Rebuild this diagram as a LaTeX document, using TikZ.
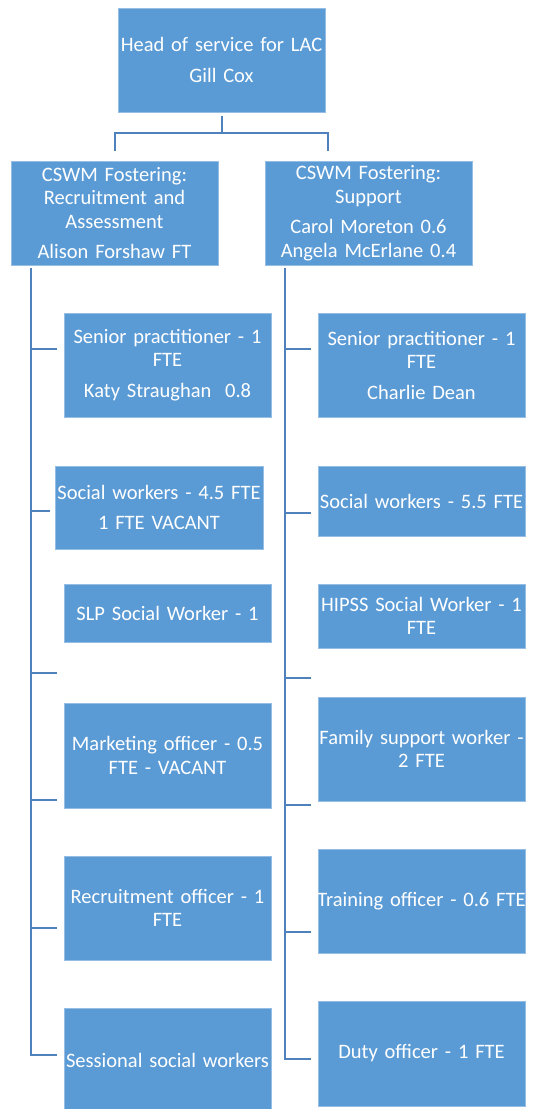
\documentclass[tikz,border=0pt]{standalone}
\usepackage{fontspec}
\setmainfont{Carlito}
\usetikzlibrary{calc}
\definecolor{boxblue}{RGB}{91,155,213}
\definecolor{linkblue}{RGB}{79,129,189}
\definecolor{edgeblue}{RGB}{150,190,228}

\begin{document}
\begin{tikzpicture}[x=1pt, y=-1pt,
		staffbox/.style={fill=boxblue, draw=edgeblue, line width=0.6pt, text=white, inner sep=0pt, align=center, text width=#1, font=\fontsize{20.5}{23.5}\selectfont},
		staffbox/.default=207pt,
		orgline/.style={draw=linkblue, line width=2pt}]
			%%%%% START %%%%%
			
			\useasboundingbox (0, 0) rectangle (534, 1109);
			
			\node[staffbox, minimum height=104pt] (head) at (221.5, 60) {Head of service for LAC\\[7pt]Gill Cox};
			
			\node[staffbox, minimum height=104pt] (csL) at (114.5, 213) {CSWM Fostering:\\Recruitment and\\Assessment\\[7pt]Alison Forshaw FT};
			\node[staffbox, minimum height=104pt] (csR) at (368.5, 213) {CSWM Fostering:\\Support\\[7pt]Carol Moreton 0.6\\Angela McErlane 0.4};
			
			\coordinate (busL) at (115, 133);
			\coordinate (busR) at (328, 133);
			\draw[orgline] ([yshift=-4pt]head.south) -- (head.south |- busL) -| ([yshift=10pt]csL.north -| busL);
			\draw[orgline] (head.south |- busR) -| ([yshift=10pt]csR.north -| busR);
			
			% left column
			\node[staffbox, minimum height=104pt] (spL) at (167.5, 365) {Senior practitioner - 1\\FTE\\[7pt]Katy Straughan\ \ 0.8};
			\node[staffbox=208pt, minimum height=83pt] (swL) at (159, 507.5) {Social workers - 4.5 FTE\\[7pt]1 FTE VACANT};
			\node[staffbox, minimum height=58pt] (slp) at (167.5, 613) {SLP Social Worker - 1};
			\node[staffbox, minimum height=105pt] (mkt) at (167.5, 755.5) {Marketing officer - 0.5\\FTE - VACANT};
			\node[staffbox, minimum height=104pt] (rec) at (167.5, 908) {Recruitment officer - 1\\FTE};
			\node[staffbox, minimum height=104pt] (ses) at (167.5, 1060) {Sessional social workers};
			
			% right column
			\node[staffbox, minimum height=104pt] (spR) at (421.5, 365) {Senior practitioner - 1\\FTE\\[7pt]Charlie Dean};
			\node[staffbox, minimum height=70pt] (swR) at (421.5, 501) {Social workers - 5.5 FTE};
			\node[staffbox, minimum height=64pt] (hip) at (421.5, 616) {HIPSS Social Worker - 1\\FTE};
			\node[staffbox, minimum height=104pt] (fam) at (421.5, 749) {Family support worker -\\2 FTE};
			\node[staffbox, minimum height=104pt] (trn) at (421.5, 901) {\makebox[\linewidth]{Training officer - 0.6 FTE}};
			\node[staffbox, minimum height=105pt] (duty) at (421.5, 1053.5) {Duty officer - 1 FTE};
			
			\coordinate (endL) at (31, 1055);
			\coordinate (endR) at (285, 1059);
			\draw[orgline] ([yshift=-3pt]csL.south -| endL) -- (endL) -- ++(26, 0);
			\draw[orgline] ([yshift=-3pt]csR.south -| endR) -- (endR) -- ++(26, 0);
			
			\foreach \y in {349, 673, 800, 928}
				\draw[orgline] (31, \y) -- ++(26, 0);
			\draw[orgline] (31, 511) -- ++(19, 0);
			\foreach \y in {349, 513, 678, 805, 932}
				\draw[orgline] (285, \y) -- ++(26, 0);
			
			%%%%% END %%%%%
		\end{tikzpicture}
\end{document}
